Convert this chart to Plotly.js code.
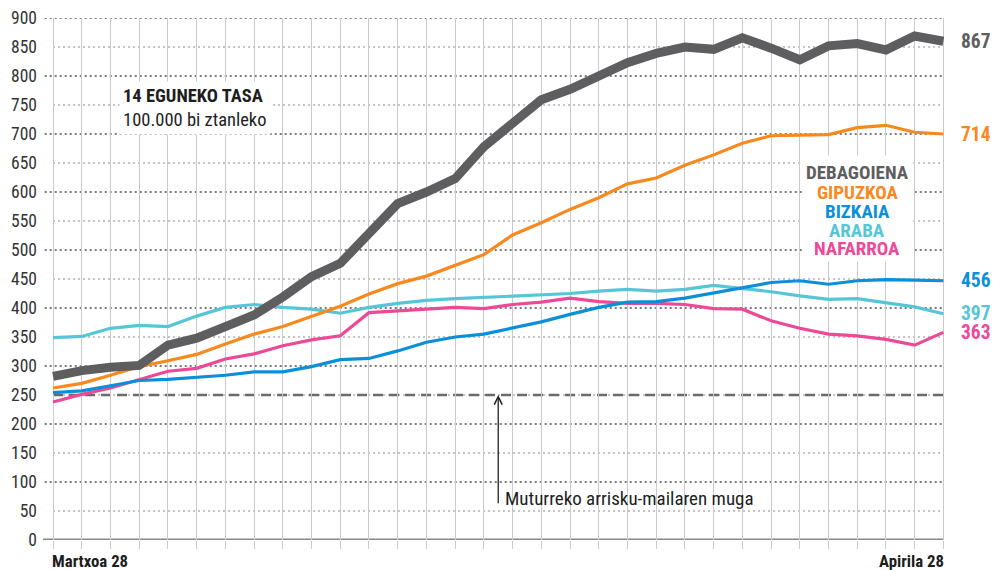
<!DOCTYPE html>
<html>
<head>
<meta charset="utf-8">
<script src="https://cdn.plot.ly/plotly-3.0.1.min.js"></script>
<style>html,body{margin:0;padding:0;background:#fff}#chart{width:997px;height:570px}</style>
</head>
<body>
<div id="chart"></div>
<script>
// ---- data (14-day rate per 100,000 inhabitants, Martxoa 28 .. Apirila 28) ----
const days = ['03-28','03-29','03-30','03-31','04-01','04-02','04-03','04-04','04-05','04-06','04-07','04-08','04-09','04-10','04-11','04-12','04-13','04-14','04-15','04-16','04-17','04-18','04-19','04-20','04-21','04-22','04-23','04-24','04-25','04-26','04-27','04-28'];
const debagoiena = [282,292,298,301,336,348,368,388,419,454,477,531,580,600,623,678,718,759,777,800,823,839,850,846,866,848,828,852,856,845,869,860];
const gipuzkoa   = [262,270,284,299,309,320,338,355,368,386,403,424,442,455,474,492,526,547,570,590,614,624,646,664,684,697,698,699,711,715,703,700];
const bizkaia    = [254,257,266,275,277,281,284,290,290,299,311,313,326,341,350,355,366,376,389,401,410,411,417,426,435,444,447,441,447,449,448,447];
const araba      = [349,351,365,370,368,386,401,406,401,398,391,401,408,413,416,418,420,422,425,429,432,429,432,439,434,428,421,415,416,409,402,390];
const nafarroa   = [238,251,262,276,291,296,312,321,335,345,352,392,395,399,401,399,406,410,417,411,408,408,406,399,398,378,365,355,352,346,336,358];
const seriesNames = ['DEBAGOIENA','GIPUZKOA','BIZKAIA','ARABA','NAFARROA'];
const endLabels = ['867','714','456','397','363'];
const xTickLabels = ['Martxoa 28','Apirila 28'];
const yTicks = [0,50,100,150,200,250,300,350,400,450,500,550,600,650,700,750,800,850,900];
const threshold = 250;
const thresholdLabel = 'Muturreko arrisku-mailaren muga';
const titleLine1 = '14 EGUNEKO TASA';
const titleLine2 = '100.000 bi ztanleko';

// ---- styling ----
const FONT = 'Roboto Condensed, Roboto, sans-serif';
const colors = {DEBAGOIENA:'#5e5e60', GIPUZKOA:'#f7891f', BIZKAIA:'#0b8fd9', ARABA:'#56c6d7', NAFARROA:'#ec4a97'};
const seriesData = {DEBAGOIENA:debagoiena, GIPUZKOA:gipuzkoa, BIZKAIA:bizkaia, ARABA:araba, NAFARROA:nafarroa};
const widths = {DEBAGOIENA:9, GIPUZKOA:3.2, BIZKAIA:3.2, ARABA:3.2, NAFARROA:3.2};
const xs = days.map((d,i)=>i);
const last = xs.length-1;

const drawOrder = ['ARABA','NAFARROA','BIZKAIA','GIPUZKOA','DEBAGOIENA'];
const traces = drawOrder.map(n=>({
  type:'scatter', mode:'lines', x:xs, y:seriesData[n], name:n,
  line:{color:colors[n], width:widths[n]}, hoverinfo:'skip', showlegend:false
}));

const shapes = [];
yTicks.forEach(v=>{
  if (v===0) {
    shapes.push({type:'line', xref:'x', yref:'y', x0:-0.35, x1:last, y0:v, y1:v, layer:'below', line:{color:'#8a8a8a', width:3}});
  } else if (v%100===0) {
    shapes.push({type:'line', xref:'x', yref:'y', x0:-0.29, x1:last, y0:v, y1:v, layer:'below', line:{color:'#7a7a7a', width:2, dash:'2px,3px'}});
  } else {
    shapes.push({type:'line', xref:'x', yref:'y', x0:0, x1:last, y0:v, y1:v, layer:'below', line:{color:'#c4c4c4', width:2, dash:'2px,3px'}});
  }
});
shapes.push({type:'line', xref:'x', yref:'y', x0:0, x1:last, y0:threshold, y1:threshold, layer:'below', line:{color:'#6a6a6a', width:2.5, dash:'10px,6px'}});
// white backing box behind the legend text block
shapes.push({type:'rect', xref:'x', yref:'y', x0:26.1, x1:29.95, y0:480, y1:663, layer:'above', line:{width:0}, fillcolor:'#ffffff'});

const annotations = [];
// title block
annotations.push({xref:'x', yref:'y', x:2.3, y:744, xanchor:'left', yanchor:'middle', align:'left', showarrow:false,
  text:'<b>'+titleLine1+'</b><br>'+titleLine2, font:{family:FONT, size:18.5, color:'#1e1e1e'}, bgcolor:'#ffffff', borderpad:3});
// legend block
const legendY = [634, 600, 567, 533, 502];
seriesNames.forEach((n,i)=>{
  annotations.push({xref:'x', yref:'y', x:28.0, y:legendY[i], xanchor:'center', yanchor:'middle', showarrow:false,
    height:17, borderpad:0, text:'<b>'+n+'</b>', font:{family:FONT, size:19, color:colors[n]}});
});
// end value labels
seriesNames.forEach((n,i)=>{
  const d = seriesData[n];
  annotations.push({xref:'x', yref:'y', x:last, y:d[d.length-1], xanchor:'left', yanchor:'middle', xshift:17, showarrow:false,
    height:19, borderpad:0, text:'<b>'+endLabels[i]+'</b>', font:{family:FONT, size:19.5, color:colors[n]}});
});
// threshold arrow + label
annotations.push({xref:'x', yref:'y', x:15.5, y:threshold, axref:'x', ayref:'y', ax:15.5, ay:58, text:' ', showarrow:true,
  arrowhead:5, arrowsize:1.2, arrowwidth:1.3, arrowcolor:'#222', standoff:0, startstandoff:0, font:{size:2}});
annotations.push({xref:'x', yref:'y', x:15.5, y:71, xanchor:'left', yanchor:'middle', xshift:5, showarrow:false,
  text:thresholdLabel, font:{family:FONT, size:19, color:'#1e1e1e'}});
// x labels
annotations.push({xref:'x', yref:'paper', x:0, y:-0.041, xanchor:'left', yanchor:'middle', showarrow:false, xshift:-3,
  text:'<b>'+xTickLabels[0]+'</b>', font:{family:FONT, size:16.8, color:'#1e1e1e'}});
annotations.push({xref:'x', yref:'paper', x:last, y:-0.041, xanchor:'right', yanchor:'middle', showarrow:false, xshift:3,
  text:'<b>'+xTickLabels[1]+'</b>', font:{family:FONT, size:16.8, color:'#1e1e1e'}});

const layout = {
  width:997, height:570,
  margin:{l:43, r:45, t:18, b:30},
  paper_bgcolor:'#ffffff', plot_bgcolor:'#ffffff',
  showlegend:false,
  xaxis:{range:[-0.35, 31.3], showgrid:true, gridcolor:'#cacaca', gridwidth:1, tick0:0, dtick:1,
         ticks:'outside', ticklen:8, tickcolor:'#cacaca', tickwidth:1, showticklabels:false, zeroline:false, showline:false, fixedrange:true},
  yaxis:{range:[0,900], tickmode:'array', tickvals:yTicks, ticktext:yTicks.map(String), showgrid:false, zeroline:false, showline:false,
         ticks:'', ticklabelstandoff:5, tickfont:{family:FONT, size:17.5, color:'#333333'}, fixedrange:true},
  shapes:shapes,
  annotations:annotations
};

Plotly.newPlot('chart', traces, layout, {displayModeBar:false, staticPlot:true});
</script>
</body>
</html>
